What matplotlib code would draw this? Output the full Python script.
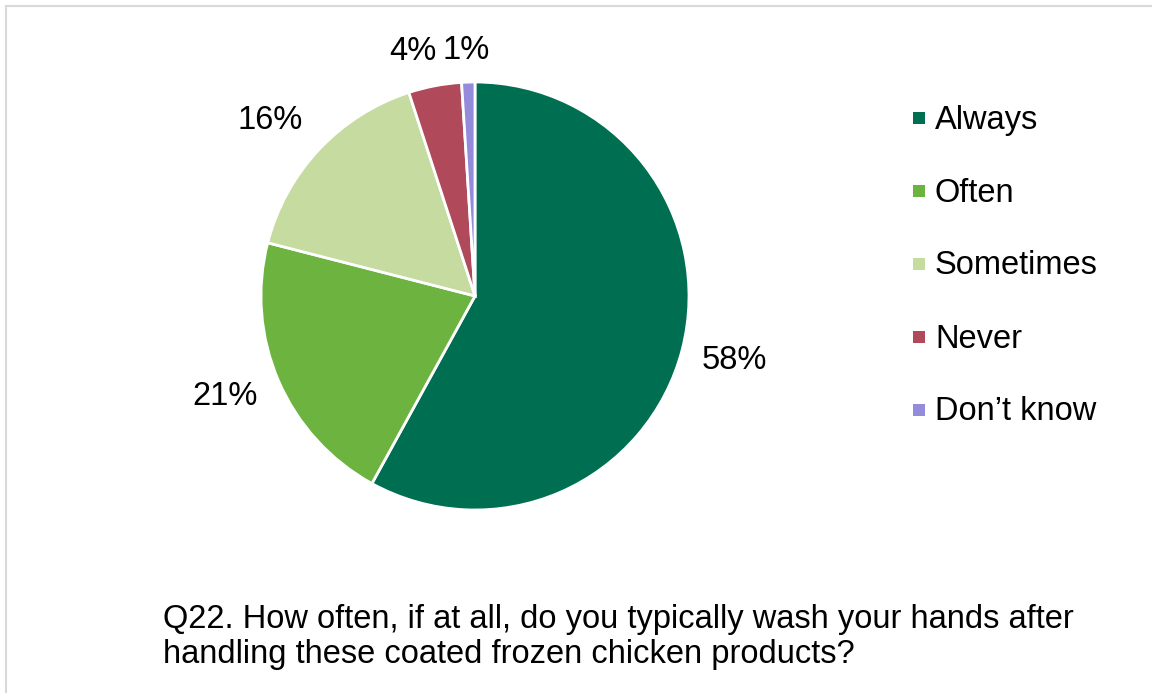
import numpy as np
import matplotlib
matplotlib.use("Agg")
import matplotlib.pyplot as plt
from matplotlib.patches import Rectangle

plt.rcParams['font.family'] = ['Liberation Sans', 'DejaVu Sans']

categories = ['Always', 'Often', 'Sometimes', 'Never', 'Don\u2019t know']
shares = [58, 21, 16, 4, 1]
colors = ['#006E51', '#6DB33F', '#C5DBA0', '#B04A5A', '#948BDB']
question = ('Q22. How often, if at all, do you typically wash your hands after\n'
            'handling these coated frozen chicken products?')

W, H = 1152, 693
FS = 23.5
fig = plt.figure(figsize=(W / 100, H / 100), dpi=100)

# light frame round the chart area (left and top edges show)
fig.patches.append(Rectangle((6 / W, -0.1), 1.2, (H - 6) / H + 0.1,
                             transform=fig.transFigure, fill=False,
                             edgecolor='#D9D9D9', linewidth=1.5))

cx, cy, r = 475, 296, 214
ax = fig.add_axes([(cx - r) / W, (H - cy - r) / H, 2 * r / W, 2 * r / H])
wedges, _ = ax.pie(shares, colors=colors, startangle=90, counterclock=False,
                   wedgeprops=dict(edgecolor='white', linewidth=2))
ax.set_xlim(-1, 1)
ax.set_ylim(-1, 1)
ax.set_aspect('equal')

# percentage labels just outside each slice
label_dist = [1.25, 1.26, 1.26, 1.18, 1.15]
label_shift = [0.5, -1.5, 2.5, 3.5, 0.3]
for w, v, d, s in zip(wedges, shares, label_dist, label_shift):
    mid = np.deg2rad((w.theta1 + w.theta2) / 2 + s)
    ax.text(d * np.cos(mid), d * np.sin(mid), f'{v}%', ha='center',
            va='center', fontsize=FS, color='black')

# legend
for i, (name, c) in enumerate(zip(categories, colors)):
    y = 119 + 73 * i
    fig.patches.append(Rectangle((913 / W, 1 - (y + 5) / H), 12 / W, 12 / H,
                                 transform=fig.transFigure, facecolor=c,
                                 edgecolor='none'))
    fig.text(935 / W, 1 - (y + 1) / H, name, ha='left', va='center',
             fontsize=FS)

fig.text(163 / W, 1 - 637 / H, question, ha='left', va='center',
         fontsize=FS, linespacing=1.15)

fig.savefig('out.png', dpi=100, facecolor='white')
